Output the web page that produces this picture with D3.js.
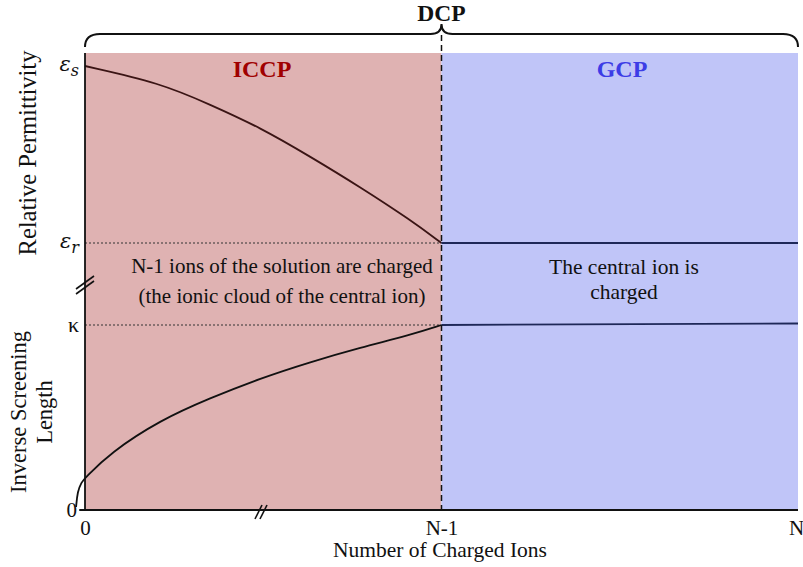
<!DOCTYPE html>
<html>
<head>
<meta charset="utf-8">
<script src="https://cdn.jsdelivr.net/npm/d3@7"></script>
<style>
  html, body { margin: 0; padding: 0; background: #fff; }
  svg { display: block; font-family: "Liberation Serif", "DejaVu Serif", serif; }
</style>
</head>
<body>
<svg id="chart" width="803" height="567"></svg>
<script>
// Regimes along the x axis (0 .. N-1 is ICCP, N-1 .. N is GCP)
const regimes = ["ICCP", "GCP"];
const regimeBounds = [0, 1, 2];
const xTickValues = [0, 1, 2];
const xTickLabels = ["0", "N-1", "N"];

// Relative permittivity, normalised between ε_r (0) and ε_s (1)
const permX = [0, 0.211, 0.351, 0.492, 0.632, 0.772, 0.913, 1];
const permY = [1, 0.904, 0.782, 0.652, 0.488, 0.316, 0.130, 0];
const permGcpX = [1, 2];
const permGcpY = [0, 0];

// Inverse screening length, normalised between 0 and κ (1)
const kappaX = [-0.025, -0.021, -0.01, 0, 0.07, 0.211, 0.351, 0.492, 0.632, 0.772, 0.913, 1];
const kappaY = [0.016, 0.10, 0.15, 0.173, 0.308, 0.486, 0.605, 0.712, 0.800, 0.878, 0.946, 1];
const kappaGcpX = [1, 2];
const kappaGcpY = [1, 1.008];

const svg = d3.select("#chart");
const plotL = 85, plotR = 798, plotT = 53, plotB = 510;

const x = d3.scaleLinear().domain([0, 2]).range([plotL, plotR]);
const yPerm = d3.scaleLinear().domain([0, 1]).range([243, 66]);
const yKappa = d3.scaleLinear().domain([0, 1]).range([plotB, 325]);

// Background regions
const fills = ["#dfb2b2", "#c0c5f8"];
svg.selectAll("rect.region").data(regimes).join("rect")
  .attr("class", "region")
  .attr("x", (d, i) => x(regimeBounds[i]))
  .attr("y", plotT)
  .attr("width", (d, i) => x(regimeBounds[i + 1]) - x(regimeBounds[i]))
  .attr("height", plotB - plotT)
  .attr("fill", (d, i) => fills[i]);

// Regime titles
const titleColors = ["#a00000", "#3c3ce6"];
const titleX = [262, 622];
svg.selectAll("text.regime").data(regimes).join("text")
  .attr("class", "regime")
  .attr("x", (d, i) => titleX[i])
  .attr("y", 77)
  .attr("text-anchor", "middle")
  .attr("font-size", 24).attr("font-weight", "bold")
  .attr("fill", (d, i) => titleColors[i])
  .text(d => d);

// Dotted guides to ε_r and κ
svg.append("line")
  .attr("x1", x(0)).attr("x2", x(1))
  .attr("y1", yPerm(0)).attr("y2", yPerm(0))
  .attr("stroke", "#333").attr("stroke-width", 1).attr("stroke-dasharray", "2,2");
svg.append("line")
  .attr("x1", x(0)).attr("x2", x(1))
  .attr("y1", yKappa(1)).attr("y2", yKappa(1))
  .attr("stroke", "#333").attr("stroke-width", 1).attr("stroke-dasharray", "2,2");

// Curves
const permLine = d3.line().x(d => x(d[0])).y(d => yPerm(d[1])).curve(d3.curveBasis);
const kappaLine = d3.line().x(d => x(d[0])).y(d => yKappa(d[1])).curve(d3.curveBasis);

svg.append("path").datum(d3.zip(permX, permY))
  .attr("d", permLine).attr("fill", "none").attr("stroke", "#3a1414").attr("stroke-width", 1.8);
svg.append("path").datum(d3.zip(permGcpX, permGcpY))
  .attr("d", permLine).attr("fill", "none").attr("stroke", "#1e2858").attr("stroke-width", 1.8);
svg.append("path").datum(d3.zip(kappaX, kappaY))
  .attr("d", kappaLine).attr("fill", "none").attr("stroke", "#111").attr("stroke-width", 1.8);
svg.append("path").datum(d3.zip(kappaGcpX, kappaGcpY))
  .attr("d", kappaLine).attr("fill", "none").attr("stroke", "#1e2858").attr("stroke-width", 1.8);

// Regime boundary
svg.append("line")
  .attr("x1", x(1)).attr("x2", x(1)).attr("y1", 35).attr("y2", plotB)
  .attr("stroke", "#111").attr("stroke-width", 1.5).attr("stroke-dasharray", "6,4");

// Axes
const xAxis = d3.axisBottom(x).tickValues(xTickValues)
  .tickFormat((d, i) => xTickLabels[i]).tickSize(0).tickPadding(10);
const gx = svg.append("g").attr("transform", `translate(0,${plotB})`).call(xAxis);
gx.select(".domain").attr("stroke", "#111").attr("stroke-width", 1.8).attr("d", `M${plotL - 5},0H${plotR}`);
gx.selectAll("text").attr("font-size", 21).attr("font-family", "Liberation Serif").attr("fill", "#111")
  .attr("dx", (d, i) => i === 2 ? -2 : 0);

svg.append("line")
  .attr("x1", plotL).attr("x2", plotL).attr("y1", plotT).attr("y2", plotB)
  .attr("stroke", "#111").attr("stroke-width", 1.8);

// Axis break marks
function breakMark(cx, cy, dx, dy, gap, vertical) {
  for (const o of [-gap / 2, gap / 2]) {
    svg.append("line")
      .attr("x1", cx - dx + (vertical ? 0 : o)).attr("y1", cy + dy + (vertical ? o : 0))
      .attr("x2", cx + dx + (vertical ? 0 : o)).attr("y2", cy - dy + (vertical ? o : 0))
      .attr("stroke", "#111").attr("stroke-width", 1.6);
  }
}
breakMark(plotL, 285, 9, 6.5, 5, true);
breakMark(261, 512, 3.5, 7, 5, false);

// Y tick labels
function epsLabel(y, sub) {
  const t = svg.append("text").attr("x", 79).attr("y", y + 5).attr("text-anchor", "end")
    .attr("font-family", "DejaVu Serif").attr("font-style", "italic").attr("font-size", 21).attr("fill", "#111");
  t.append("tspan").text("ε");
  t.append("tspan").attr("dy", 5).attr("font-size", 16).text(sub);
}
epsLabel(yPerm(1), "s");
epsLabel(yPerm(0), "r");
svg.append("text").attr("x", 79).attr("y", yKappa(1) + 7).attr("text-anchor", "end")
  .attr("font-size", 22).attr("fill", "#111").text("κ");
svg.append("text").attr("x", 77).attr("y", yKappa(0) + 7).attr("text-anchor", "end")
  .attr("font-size", 21).attr("fill", "#111").text("0");
svg.append("line").attr("x1", plotL - 6).attr("x2", plotL).attr("y1", plotB).attr("y2", plotB)
  .attr("stroke", "#111").attr("stroke-width", 1.5);

// Axis titles
svg.append("text").attr("x", 440).attr("y", 557).attr("text-anchor", "middle")
  .attr("font-size", 21.5).attr("fill", "#111").text("Number of Charged Ions");
svg.append("text").attr("transform", "translate(36,153) rotate(-90)").attr("text-anchor", "middle")
  .attr("font-size", 24.5).attr("fill", "#111").text("Relative Permittivity");
svg.append("text").attr("transform", "translate(26,412) rotate(-90)").attr("text-anchor", "middle")
  .attr("font-size", 22.5).attr("fill", "#111").text("Inverse Screening");
svg.append("text").attr("transform", "translate(52,412) rotate(-90)").attr("text-anchor", "middle")
  .attr("font-size", 22.5).attr("fill", "#111").text("Length");

// Annotations
const notes = [
  { cx: 282, lines: ["N-1 ions of the solution are charged", "(the ionic cloud of the central ion)"], y0: 273, dy: 30, size: 21 },
  { cx: 624, lines: ["The central ion is", "charged"], y0: 274, dy: 25, size: 21.5 }
];
notes.forEach(n => {
  n.lines.forEach((l, i) => {
    svg.append("text").attr("x", n.cx).attr("y", n.y0 + i * n.dy).attr("text-anchor", "middle")
      .attr("font-size", n.size).attr("fill", "#111").text(l);
  });
});

// Brace spanning both regimes
const bx0 = x(0), bx1 = x(2), bm = x(1), by = 34, r = 11;
const brace = `M${bx0},${by + 13} Q${bx0},${by} ${bx0 + r + 4},${by} L${bm - r},${by} Q${bm},${by} ${bm},${by - 10}` +
  ` Q${bm},${by} ${bm + r},${by} L${bx1 - r - 4},${by} Q${bx1},${by} ${bx1},${by + 13}`;
svg.append("path").attr("d", brace).attr("fill", "none").attr("stroke", "#111").attr("stroke-width", 2);
svg.append("text").attr("x", bm).attr("y", 21).attr("text-anchor", "middle")
  .attr("font-size", 23.5).attr("font-weight", "bold").attr("fill", "#111").text("DCP");
</script>
</body>
</html>
